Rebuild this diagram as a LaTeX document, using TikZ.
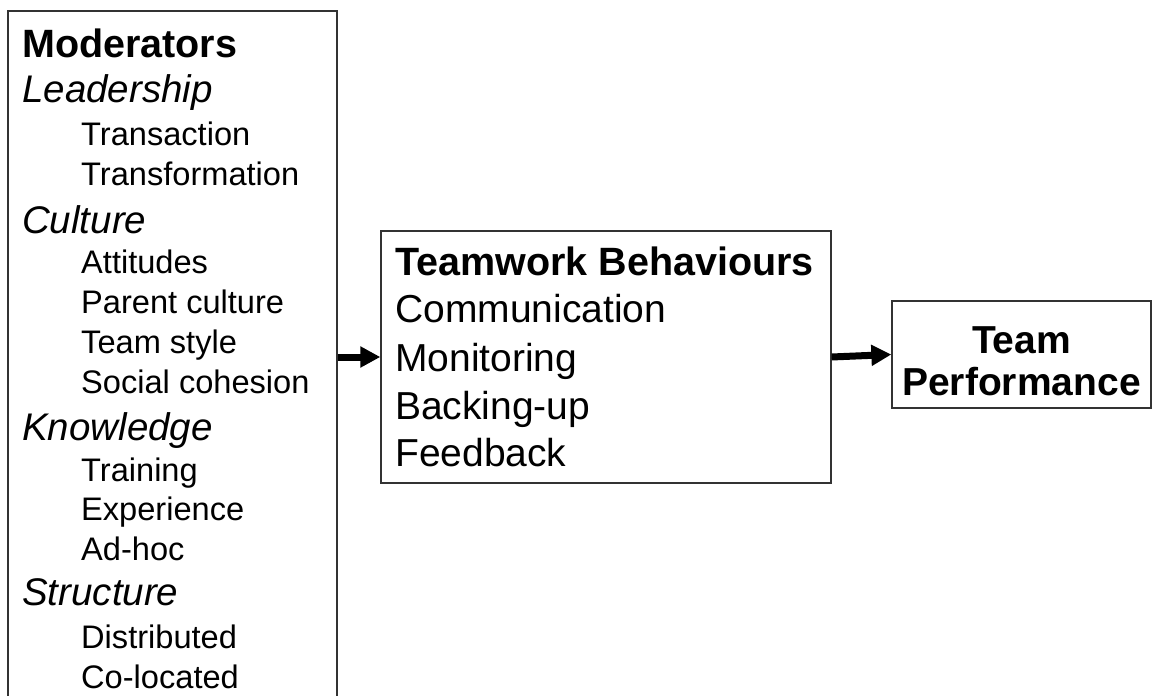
\documentclass[tikz,border=0pt]{standalone}
\usepackage{fontspec}
\setmainfont{Liberation Sans}
\usetikzlibrary{arrows.meta}
\begin{document}
\begin{tikzpicture}[x=1bp,y=-1bp,
  boxstyle/.style={draw=black!80,line width=1.3bp,rectangle,inner sep=0pt},
  headtxt/.style={inner sep=0pt,anchor=base west,font=\fontsize{39.5bp}{45bp}\selectfont\bfseries},
  cattxt/.style={inner sep=0pt,anchor=base west,font=\fontsize{38.5bp}{45bp}\selectfont\itshape},
  subtxt/.style={inner sep=0pt,anchor=base west,font=\fontsize{32.6bp}{40bp}\selectfont},
  midtxt/.style={inner sep=0pt,anchor=base west,font=\fontsize{39bp}{45bp}\selectfont},
  ctrtxt/.style={inner sep=0pt,anchor=base,font=\fontsize{39bp}{45bp}\selectfont\bfseries},
  flow/.style={line width=7bp,-{Triangle[length=20bp,width=20bp]}}]
\useasboundingbox (0,0) rectangle (1153,696);
% boxes
\node[boxstyle,minimum width=329bp,minimum height=692bp] (mod) at (172.5,357) {};
\node[boxstyle,minimum width=450bp,minimum height=252bp] (tb) at (606,357) {};
\node[boxstyle,minimum width=259bp,minimum height=107bp] (tp) at (1021.5,354.5) {};
% left texts
\node[headtxt] (m0) at (22,58) {Moderators};
\node[cattxt] (c1) at (22,103) {Leadership};
\node[subtxt] (s11) at (81,146) {Transaction};
\node[subtxt] (s12) at (81,186) {Transformation};
\node[cattxt] (c2) at (22,233) {Culture};
\node[subtxt] (s21) at (81,273) {Attitudes};
\node[subtxt] (s22) at (81,313) {Parent culture};
\node[subtxt] (s23) at (81,353) {Team style};
\node[subtxt] (s24) at (81,393) {Social cohesion};
\node[cattxt] (c3) at (22,440) {Knowledge};
\node[subtxt] (s31) at (81,481) {Training};
\node[subtxt] (s32) at (81,520) {Experience};
\node[subtxt] (s33) at (81,560) {Ad-hoc};
\node[cattxt] (c4) at (22,605) {Structure};
\node[subtxt] (s41) at (81,648) {Distributed};
\node[subtxt] (s42) at (81,688) {Co-located};
% middle texts
\node[headtxt] (t0) at (395,275) {Teamwork Behaviours};
\node[midtxt] (t1) at (395,322) {Communication};
\node[midtxt] (t2) at (395,371) {Monitoring};
\node[midtxt] (t3) at (395,419) {Backing-up};
\node[midtxt] (t4) at (395,466) {Feedback};
% right texts
\node[ctrtxt] (p1) at (1021.5,353) {Team};
\node[ctrtxt] (p2) at (1021.5,395) {Performance};
% arrows
\draw[flow] (mod.east) -- (tb.west);
\draw[flow] (tb.east) -- (tp.west);
\end{tikzpicture}
\end{document}
